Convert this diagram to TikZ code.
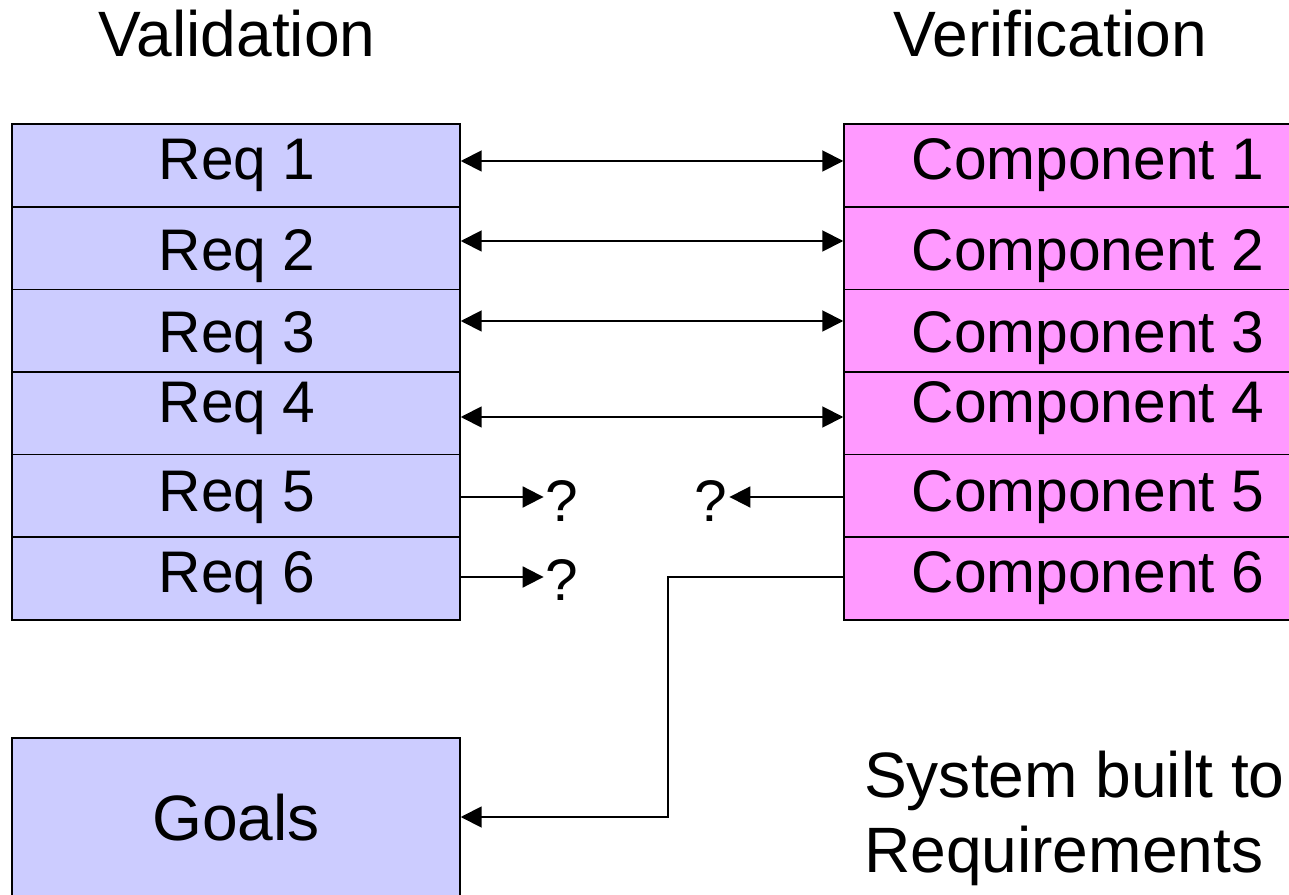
\documentclass[tikz,border=0pt]{standalone}
\usepackage{fontspec}
\setmainfont{Liberation Sans}
\usetikzlibrary{arrows.meta}
\begin{document}
\begin{tikzpicture}[x=0.02cm, y=-0.02cm]
    \definecolor{Reqcolor}{RGB}{204, 204, 255}
    \definecolor{Compcolor}{RGB}{255, 153, 255}
    \def\reqwidth{8.96cm}
    \def\compwidth{9.76cm}
    \def\rowheight{1.653cm}
    \tikzset{
        reqbox/.style={draw, line width=0.9pt, shape=rectangle, fill=Reqcolor, minimum width=\reqwidth, minimum height=\rowheight, inner sep=0pt},
        compbox/.style={draw, line width=0.9pt, shape=rectangle, fill=Compcolor, minimum width=\compwidth, minimum height=\rowheight, inner sep=0pt},
        rowtext/.style={anchor=base, inner sep=1pt, font=\fontsize{33.4}{40}\selectfont},
        bigtext/.style={anchor=base, inner sep=1pt, font=\fontsize{36.5}{44}\selectfont},
        link/.style={line width=1.1pt},
        twoway/.style={link, {Triangle[length=0.42cm, width=0.42cm]}-{Triangle[length=0.42cm, width=0.42cm]}},
        oneway/.style={link, -{Triangle[length=0.42cm, width=0.42cm]}}
    }
    \useasboundingbox (0, 0) rectangle (1289, 895);
    \clip (0, 0) rectangle (1289, 895);
    \node[bigtext] (valid) at (237, 57) {Validation};
    \node[bigtext] (verif) at (1050, 57) {Verification};
    \node[reqbox] (R1) at (236, 165.5) {};
    \node[reqbox] (R2) at (236, 248.5) {};
    \node[reqbox] (R3) at (236, 331) {};
    \node[reqbox] (R4) at (236, 413.5) {};
    \node[reqbox] (R5) at (236, 496) {};
    \node[reqbox] (R6) at (236, 578.5) {};
    \node[rowtext] (textR1) at (237, 180) {Req 1};
    \node[rowtext] (textR2) at (237, 271) {Req 2};
    \node[rowtext] (textR3) at (237, 353) {Req 3};
    \node[rowtext] (textR4) at (237, 422) {Req 4};
    \node[rowtext] (textR5) at (237, 511) {Req 5};
    \node[rowtext] (textR6) at (237, 592) {Req 6};
    \node[compbox] (C1) at (1088, 165.5) {};
    \node[compbox] (C2) at (1088, 248.5) {};
    \node[compbox] (C3) at (1088, 331) {};
    \node[compbox] (C4) at (1088, 413.5) {};
    \node[compbox] (C5) at (1088, 496) {};
    \node[compbox] (C6) at (1088, 578.5) {};
    \node[rowtext] (textC1) at (1088, 180) {Component 1};
    \node[rowtext] (textC2) at (1088, 271) {Component 2};
    \node[rowtext] (textC3) at (1088, 353) {Component 3};
    \node[rowtext] (textC4) at (1088, 422) {Component 4};
    \node[rowtext] (textC5) at (1088, 511) {Component 5};
    \node[rowtext] (textC6) at (1088, 592) {Component 6};
    \node[rowtext] (Q5) at (562, 521) {?};
    \node[rowtext] (Q6) at (562, 600) {?};
    \node[rowtext] (QC5) at (711, 521) {?};
    \node[reqbox, minimum height=3.4cm] (Goals) at (236, 823) {};
    \node[bigtext] (textGoals) at (236, 840) {Goals};
    \node[bigtext, anchor=base west] (sys1) at (862, 797) {System built to};
    \node[bigtext, anchor=base west] (sys2) at (862, 872) {Requirements};
    \coordinate (bend) at (668, 577);
    \draw[twoway] (R1.east |- 0, 161) -- (C1.west |- 0, 161);
    \draw[twoway] (R2.east |- 0, 241) -- (C2.west |- 0, 241);
    \draw[twoway] (R3.east |- 0, 321) -- (C3.west |- 0, 321);
    \draw[twoway] (R4.east |- 0, 417) -- (C4.west |- 0, 417);
    \draw[oneway] (R5.east |- 0, 497) -- (Q5.west |- 0, 497);
    \draw[oneway] (R6.east |- 0, 577) -- (Q6.west |- 0, 577);
    \draw[oneway] (C5.west |- 0, 497) -- (QC5.east |- 0, 497);
    \draw[oneway] (C6.west |- bend) -- (bend) |- (Goals.east |- 0, 817);
\end{tikzpicture}
\end{document}
